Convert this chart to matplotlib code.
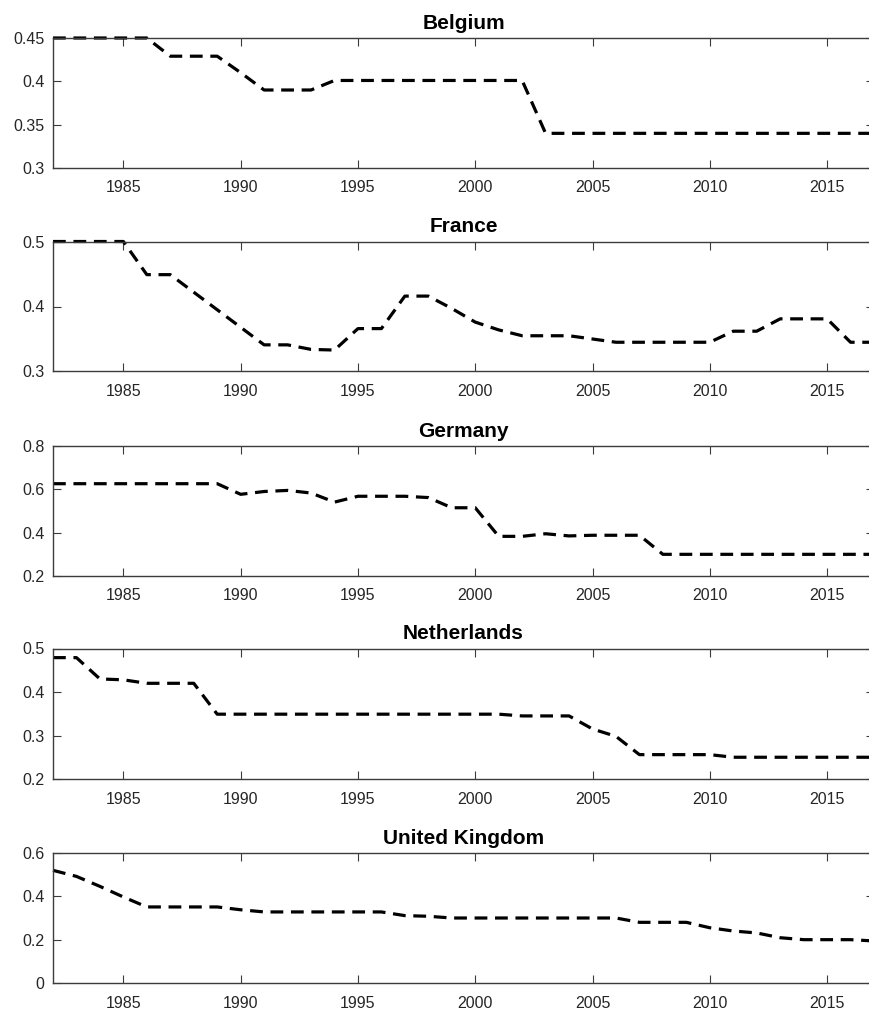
import matplotlib.pyplot as plt
from matplotlib.ticker import FormatStrFormatter

plt.rcParams['font.family'] = ['Liberation Sans', 'DejaVu Sans']

# Years shown on every panel
years = list(range(1982, 2018))

belgium = [0.45, 0.45, 0.45, 0.45, 0.45, 0.429, 0.429, 0.429, 0.41, 0.39,
           0.39, 0.39, 0.401, 0.401, 0.401, 0.401, 0.401, 0.401, 0.401, 0.401,
           0.401, 0.34, 0.34, 0.34, 0.34, 0.34, 0.34, 0.34, 0.34, 0.34,
           0.34, 0.34, 0.34, 0.34, 0.34, 0.34]
france = [0.5, 0.5, 0.5, 0.5, 0.449, 0.449, 0.422, 0.395, 0.368, 0.341,
          0.341, 0.334, 0.333, 0.366, 0.366, 0.416, 0.416, 0.397, 0.376, 0.364,
          0.355, 0.355, 0.355, 0.35, 0.345, 0.345, 0.345, 0.345, 0.345, 0.362,
          0.362, 0.381, 0.381, 0.381, 0.345, 0.345]
germany = [0.626, 0.626, 0.626, 0.626, 0.626, 0.626, 0.626, 0.626, 0.577, 0.59,
           0.595, 0.583, 0.541, 0.568, 0.568, 0.568, 0.562, 0.515, 0.515, 0.383,
           0.383, 0.395, 0.385, 0.388, 0.388, 0.388, 0.3, 0.3, 0.3, 0.3,
           0.3, 0.3, 0.3, 0.3, 0.3, 0.3]
netherlands = [0.479, 0.479, 0.43, 0.428, 0.42, 0.42, 0.42, 0.349, 0.349, 0.349,
               0.349, 0.349, 0.349, 0.349, 0.349, 0.349, 0.349, 0.349, 0.349, 0.349,
               0.345, 0.345, 0.345, 0.315, 0.298, 0.256, 0.256, 0.256, 0.256, 0.25,
               0.25, 0.25, 0.25, 0.25, 0.25, 0.25]
uk = [0.52, 0.492, 0.446, 0.397, 0.351, 0.351, 0.351, 0.351, 0.338, 0.328,
      0.328, 0.328, 0.328, 0.328, 0.328, 0.311, 0.308, 0.3, 0.3, 0.3,
      0.3, 0.3, 0.3, 0.3, 0.3, 0.28, 0.28, 0.28, 0.255, 0.24,
      0.231, 0.209, 0.2, 0.2, 0.2, 0.194]

countries = ["Belgium", "France", "Germany", "Netherlands", "United Kingdom"]
series = [belgium, france, germany, netherlands, uk]
ylims = [(0.3, 0.45), (0.3, 0.5), (0.2, 0.8), (0.2, 0.5), (0.0, 0.6)]
yticks = [[0.3, 0.35, 0.4, 0.45], [0.3, 0.4, 0.5], [0.2, 0.4, 0.6, 0.8],
          [0.2, 0.3, 0.4, 0.5], [0.0, 0.2, 0.4, 0.6]]

W, H = 870, 1011
fig = plt.figure(figsize=(W / 100, H / 100), dpi=100)

# pixel positions of each panel (top, bottom)
panel_px = [(38, 168), (241.5, 371.5), (446, 576), (648.5, 779), (853, 983)]
left_px, right_px = 53, 874
axcol = '#3c3c3c'

for name, vals, yl, yt, (top, bot) in zip(countries, series, ylims, yticks, panel_px):
    ax = fig.add_axes([left_px / W, 1 - bot / H, (right_px - left_px) / W, (bot - top) / H])
    ax.plot(years, vals, color='black', linestyle='--', linewidth=2.3,
            dashes=(4.0, 2.4), clip_on=False)
    ax.set_xlim(1982, 2017)
    ax.set_ylim(*yl)
    ax.set_yticks(yt)
    ax.set_xticks([1985, 1990, 1995, 2000, 2005, 2010, 2015])
    ax.yaxis.set_major_formatter(FormatStrFormatter('%g'))
    ax.tick_params(direction='in', length=6, width=0.8, color=axcol,
                   labelcolor='#262626', labelsize=11.5,
                   top=True, right=True)
    ax.tick_params(axis='x', pad=9)
    ax.tick_params(axis='y', pad=6)
    for s in ax.spines.values():
        s.set_color(axcol)
        s.set_linewidth(1.0)
    ax.set_title(name, fontsize=15, fontweight='bold', pad=6.5)

fig.savefig('out.png', dpi=100)
